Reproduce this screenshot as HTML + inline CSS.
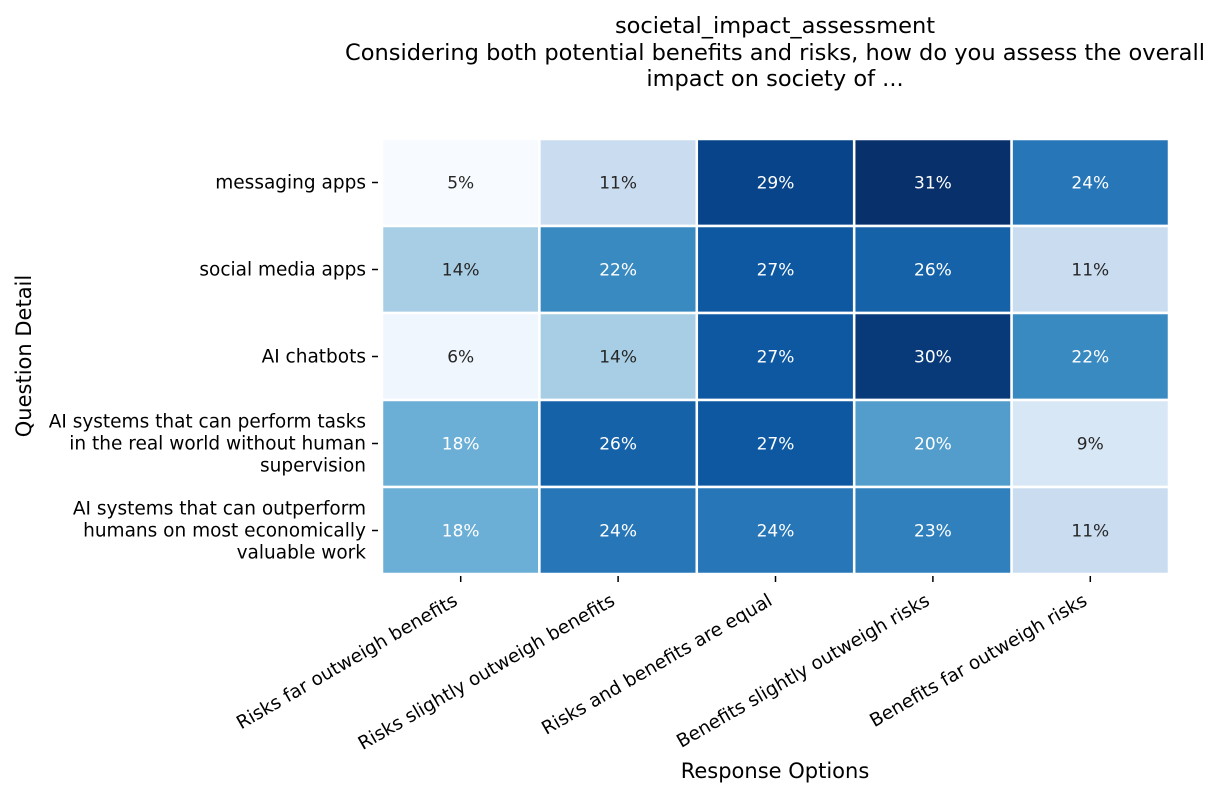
<!DOCTYPE html>
<html><head><meta charset="utf-8"><style>
body{margin:0;background:#fff;}
svg{display:block;font-family:"DejaVu Sans","Liberation Sans",sans-serif;}
</style></head><body>
<svg id="chart" width="1227" height="797">
<text x="775" y="33" text-anchor="middle" font-size="22.5" fill="#000">societal_impact_assessment</text>
<text x="775" y="60" text-anchor="middle" font-size="22.5" fill="#000">Considering both potential benefits and risks, how do you assess the overall</text>
<text x="775" y="86" text-anchor="middle" font-size="22.5" fill="#000">impact on society of ...</text>
<text x="775" y="778" text-anchor="middle" font-size="21" fill="#000">Response Options</text>
<text transform="translate(31,356) rotate(-90)" text-anchor="middle" font-size="21" fill="#000">Question Detail</text>
<g id="cells"></g><g id="xaxis"></g><g id="yaxis"></g>
</svg>
<script>
const categories = ["Risks far outweigh benefits","Risks slightly outweigh benefits","Risks and benefits are equal","Benefits slightly outweigh risks","Benefits far outweigh risks"];
const rowLabels = [["messaging apps"],["social media apps"],["AI chatbots"],["AI systems that can perform tasks","in the real world without human","supervision"],["AI systems that can outperform","humans on most economically","valuable work"]];
const values = [
 [5,11,29,31,24],
 [14,22,27,26,11],
 [6,14,27,30,22],
 [18,26,27,20,9],
 [18,24,24,23,11]
];
const vmin=5, vmax=31;
const X0=382,X1=1169,Y0=139,Y1=574;
const cw=(X1-X0)/categories.length, ch=(Y1-Y0)/rowLabels.length;
const xs=i=>X0+i*cw, ys=j=>Y0+j*ch;
const stops=["#f7fbff","#deebf7","#c6dbef","#9ecae1","#6baed6","#4292c6","#2171b5","#08519c","#08306b"];
function hex(h){return [1,3,5].map(k=>parseInt(h.substr(k,2),16));}
function cmap(t){t=Math.max(0,Math.min(1,t));const p=t*8,i=Math.min(7,Math.floor(p)),f=p-i;const a=hex(stops[i]),b=hex(stops[i+1]);return "rgb("+a.map((v,k)=>Math.round(v+(b[k]-v)*f)).join(",")+")";}
const NS="http://www.w3.org/2000/svg";
function mk(tag,attrs,parent){const e=document.createElementNS(NS,tag);for(const k in attrs)e.setAttribute(k,attrs[k]);parent.appendChild(e);return e;}
const cells=document.getElementById("cells"),xa=document.getElementById("xaxis"),ya=document.getElementById("yaxis");
values.forEach((row,j)=>row.forEach((v,i)=>{
 const t=(v-vmin)/(vmax-vmin);
 const r=mk("rect",{x:xs(i),y:ys(j),width:cw,height:ch,fill:cmap(t),stroke:"#fff","stroke-width":2.5},cells);
 
 
 const tx=mk("text",{x:xs(i)+cw/2,y:ys(j)+ch/2+6,"text-anchor":"middle","font-size":17,fill:t>0.45?"#fff":"#262626"},cells);
 tx.textContent=v+"%";
 
 
}));
categories.forEach((c,i)=>{
 const cx=xs(i)+cw/2;
 const l=mk("line",{x1:cx,x2:cx,y1:Y1+2,y2:Y1+8,stroke:"#000","stroke-width":1.5},xa);
 
 
 const t=mk("text",{transform:"translate("+(cx-2)+","+(Y1+30)+") rotate(-30)","text-anchor":"end","font-size":18.5,fill:"#000"},xa);
 t.textContent=c;
 
 
});
rowLabels.forEach((lines,j)=>{
 const cy=ys(j)+ch/2;
 const l=mk("line",{x1:X0-10,x2:X0-4,y1:cy,y2:cy,stroke:"#000","stroke-width":1.5},ya);
 
 
 const n=lines.length;
 lines.forEach((s,k)=>{
  const t=mk("text",{x:X0-16,y:cy+6+(k-(n-1)/2)*22,"text-anchor":"end","font-size":18.5,fill:"#000"},ya);
  t.textContent=s;
  
  
 });
});
</script>
</body></html>
